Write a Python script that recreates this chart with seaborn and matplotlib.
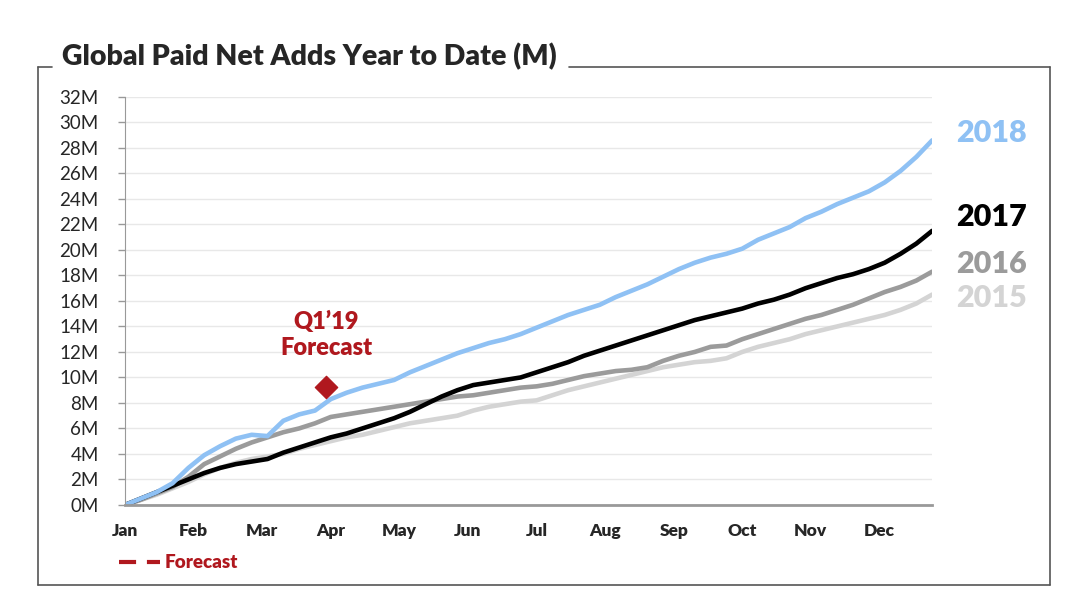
import numpy as np
import pandas as pd
import seaborn as sns
import matplotlib.pyplot as plt
from matplotlib.lines import Line2D

# 주 단위 누적 순증 가입자 (M)
weeks = list(range(52))
net_adds_2018 = [0, 0.5, 1.0, 1.7, 2.9, 3.9, 4.6, 5.2, 5.5, 5.4, 6.6, 7.1, 7.4, 8.3, 8.8, 9.2,
                 9.5, 9.8, 10.4, 10.9, 11.4, 11.9, 12.3, 12.7, 13.0, 13.4, 13.9, 14.4, 14.9, 15.3,
                 15.7, 16.3, 16.8, 17.3, 17.9, 18.5, 19.0, 19.4, 19.7, 20.1, 20.8, 21.3, 21.8, 22.5,
                 23.0, 23.6, 24.1, 24.6, 25.3, 26.2, 27.3, 28.6]
net_adds_2017 = [0, 0.5, 1.0, 1.5, 2.0, 2.5, 2.9, 3.2, 3.4, 3.6, 4.1, 4.5, 4.9, 5.3, 5.6, 6.0,
                 6.4, 6.8, 7.3, 7.9, 8.5, 9.0, 9.4, 9.6, 9.8, 10.0, 10.4, 10.8, 11.2, 11.7,
                 12.1, 12.5, 12.9, 13.3, 13.7, 14.1, 14.5, 14.8, 15.1, 15.4, 15.8, 16.1, 16.5, 17.0,
                 17.4, 17.8, 18.1, 18.5, 19.0, 19.7, 20.5, 21.5]
net_adds_2016 = [0, 0.4, 0.9, 1.4, 2.2, 3.2, 3.8, 4.4, 4.9, 5.3, 5.7, 6.0, 6.4, 6.9, 7.1, 7.3,
                 7.5, 7.7, 7.9, 8.1, 8.3, 8.5, 8.6, 8.8, 9.0, 9.2, 9.3, 9.5, 9.8, 10.1,
                 10.3, 10.5, 10.6, 10.8, 11.3, 11.7, 12.0, 12.4, 12.5, 13.0, 13.4, 13.8, 14.2, 14.6,
                 14.9, 15.3, 15.7, 16.2, 16.7, 17.1, 17.6, 18.3]
net_adds_2015 = [0, 0.4, 0.8, 1.3, 1.8, 2.4, 2.9, 3.3, 3.6, 3.8, 4.0, 4.4, 4.7, 5.0, 5.3, 5.5,
                 5.8, 6.1, 6.4, 6.6, 6.8, 7.0, 7.4, 7.7, 7.9, 8.1, 8.2, 8.6, 9.0, 9.3,
                 9.6, 9.9, 10.2, 10.5, 10.8, 11.0, 11.2, 11.3, 11.5, 12.0, 12.4, 12.7, 13.0, 13.4,
                 13.7, 14.0, 14.3, 14.6, 14.9, 15.3, 15.8, 16.5]

years = ["2018", "2017", "2016", "2015"]
year_colors = ["#8fc1f4", "#000000", "#9b9b9b", "#d4d4d4"]
label_y = [29.2, 22.6, 18.9, 16.2]

months = ["Jan", "Feb", "Mar", "Apr", "May", "Jun", "Jul", "Aug", "Sep", "Oct", "Nov", "Dec"]
y_ticks = list(range(0, 33, 2))

forecast_week = [12.7]
forecast_value = [9.25]
forecast_red = "#b0181e"

df = pd.DataFrame({"week": weeks, "2018": net_adds_2018, "2017": net_adds_2017,
                   "2016": net_adds_2016, "2015": net_adds_2015})
df = df.melt(id_vars="week", var_name="year", value_name="adds")

sns.set_style("white")
plt.rcParams['font.family'] = ['Lato', 'DejaVu Sans']

fig = plt.figure(figsize=(10.69, 6.12), dpi=100)
ax = fig.add_axes([0.117, 0.175, 0.755, 0.6665])

sns.lineplot(data=df, x="week", y="adds", hue="year", hue_order=years[::-1],
             palette=dict(zip(years, year_colors)), linewidth=3.3, legend=False, ax=ax)
sns.scatterplot(x=forecast_week, y=forecast_value, marker="D", s=130, color=forecast_red,
                edgecolor=forecast_red, ax=ax, zorder=5)
ax.text(forecast_week[0], forecast_value[0] + 2.2, "Q1’19\nForecast", ha="center", va="bottom",
        fontsize=17, fontweight="heavy", color=forecast_red, linespacing=1.2)

ax.set_xlim(0, 51)
ax.set_ylim(0, 32)
ax.set_xticks([i * 52 / 12 for i in range(12)])
ax.set_xticklabels(months, fontweight="heavy", fontsize=12.5)
ax.set_yticks(y_ticks)
ax.set_yticklabels([f"{v}M" for v in y_ticks], fontsize=13.5)
ax.tick_params(axis="x", length=0, pad=13)
ax.tick_params(axis="y", length=5, width=1, color="#999999", direction="out", pad=14, left=True)
ax.grid(axis="y", color="#e8e8e8", linewidth=1)
ax.set_xlabel("")
ax.set_ylabel("")
for side in ["top", "right"]:
    ax.spines[side].set_visible(False)
ax.spines["left"].set_color("#999999")
ax.spines["bottom"].set_color("#999999")
ax.spines["bottom"].set_linewidth(2)

for yr, col, ly in zip(years, year_colors, label_y):
    ax.text(52.5, ly, yr, color=col, fontsize=22, fontweight="heavy", va="center", ha="left",
            clip_on=False)

# 바깥 테두리 + 제목
frame_kw = dict(color="#555555", linewidth=1.2, transform=fig.transFigure)
x0, x1, y0, y1 = 0.0355, 0.982, 0.0441, 0.8905
fig.add_artist(Line2D([x0, x0], [y0, y1], **frame_kw))
fig.add_artist(Line2D([x1, x1], [y0, y1], **frame_kw))
fig.add_artist(Line2D([x0, x1], [y0, y0], **frame_kw))
fig.add_artist(Line2D([x0, 0.049], [y1, y1], **frame_kw))
fig.add_artist(Line2D([0.532, x1], [y1, y1], **frame_kw))
fig.text(0.058, 0.907, "Global Paid Net Adds Year to Date (M)", fontsize=20.5, fontweight="heavy",
         va="center", ha="left")

# 범례: 점선 + Forecast
fig.add_artist(Line2D([119 / 1069, 160 / 1069], [1 - 562 / 612] * 2, color=forecast_red,
                      linewidth=3, linestyle=(0, (4.1, 2.6)), transform=fig.transFigure))
fig.text(165 / 1069, 1 - 562 / 612, "Forecast", color=forecast_red, fontsize=13.5,
         fontweight="heavy", va="center", ha="left")

plt.savefig("out.png", dpi=100)
